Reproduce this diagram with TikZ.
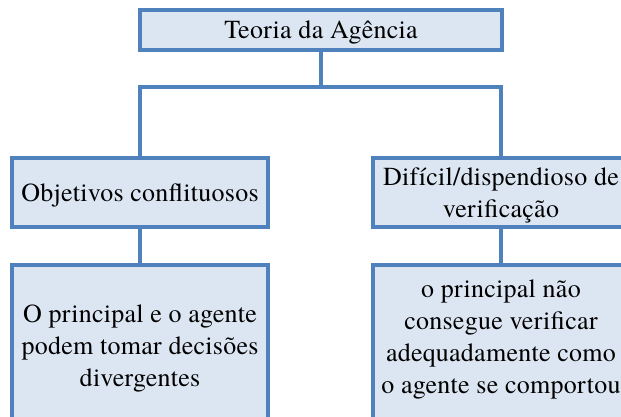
\documentclass[tikz,border=0pt]{standalone}
\usepackage{fontspec}
\setmainfont{TeX Gyre Termes}[LetterSpace=1.0]
\definecolor{boxline}{HTML}{4F81BD}
\definecolor{boxfill}{HTML}{DCE6F2}

\begin{document}
\begin{tikzpicture}[x=1pt,y=-1pt,
        caixa/.style={draw=boxline,fill=boxfill,line width=3.2pt,align=center,
            inner sep=0pt,outer sep=0pt,text depth=0pt,
            font=\fontsize{26}{32}\selectfont},
        ligacao/.style={draw=boxline,line width=3.2pt}]
        \useasboundingbox (0,0) rectangle (621,416);

        \node[caixa,minimum width=362pt,minimum height=40pt] (teoria) at (321,30) {Teoria da Agência};
        \node[caixa,minimum width=256pt,minimum height=69pt] (objetivos) at (140,192.5) {Objetivos conflituosos};
        \node[caixa,minimum width=256pt,minimum height=69pt] (dificil) at (501,192.5) {Difícil/dispendioso de\\verificação};

        \node[caixa,anchor=north,minimum width=256pt,inner ysep=40pt,text depth=40pt] (decisoes) at (140,265)
            {O principal e o agente\\podem tomar decisões\\divergentes};
        \node[caixa,anchor=north,minimum width=256pt,inner ysep=15pt,text depth=40pt] (comportou) at (501,265)
            {o principal não\\consegue verificar\\adequadamente como\\o agente se comportou};

        \coordinate (barra) at (321,87);
        \draw[ligacao] (teoria) -- (barra) -| (objetivos);
        \draw[ligacao] (barra) -| (dificil);
        \draw[ligacao] (objetivos) -- (decisoes);
        \draw[ligacao] (dificil) -- (comportou);
    \end{tikzpicture}
\end{document}
